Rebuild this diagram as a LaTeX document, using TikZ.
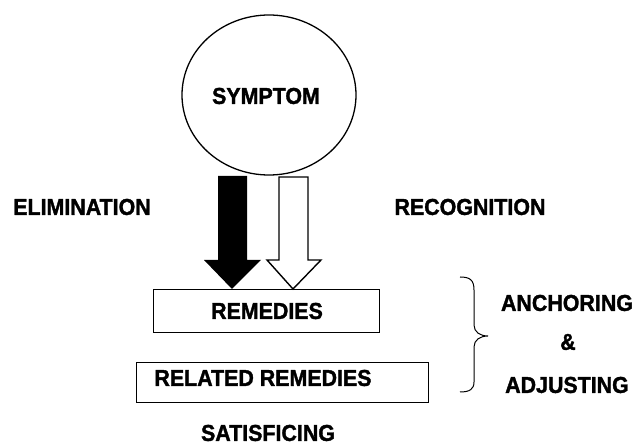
\documentclass[tikz,border=0pt]{standalone}
\usepackage{fontspec}
\setmainfont{Liberation Sans}[FakeStretch=0.93, BoldFeatures={FakeBold=1.5}]
\usetikzlibrary{shapes.geometric}
\begin{document}
\begin{tikzpicture}[x=1pt,y=-1pt,
  lbl/.style={font=\fontsize{23}{26}\selectfont\bfseries, inner sep=0pt},
  boxstyle/.style={draw, line width=1pt},
  arrowline/.style={draw, line width=1.4pt, line join=miter}]
\useasboundingbox[fill=white] (0,0) rectangle (633,446);
% circle
\node[draw, line width=1.3pt, ellipse, minimum width=174pt, minimum height=160pt, inner sep=0pt] (circ) at (269,95) {};
\node[lbl] (symptom) at (266,96) {SYMPTOM};
% boxes
\node[boxstyle, minimum width=226pt, minimum height=43pt, inner sep=0pt] (rem) at (266,311) {};
\node[lbl] (remt) at (267,311) {REMEDIES};
\node[boxstyle, minimum width=292pt, minimum height=40pt, inner sep=0pt] (rel) at (282,383) {};
\node[lbl] (relt) at (263,378) {RELATED REMEDIES};
% block arrows
\fill[black] (218,176) -- (247,176) -- (247,260) -- (261,260) -- (232,289) -- (204,260) -- (218,260) -- cycle;
\draw[arrowline, fill=white] (279,177) -- (308,177) -- (308,260) -- (321,260) -- (293,289) -- (267,260) -- (279,260) -- cycle;
% labels
\node[lbl] (elim) at (82,207) {ELIMINATION};
\node[lbl] (recog) at (470,207) {RECOGNITION};
\node[lbl] (satis) at (268,433) {SATISFICING};
\node[lbl] (anch) at (567,303) {ANCHORING};
\node[lbl] (amp) at (568,342) {\&};
\node[lbl] (adj) at (567,385) {ADJUSTING};
% brace
\draw[line width=1pt] (460,277) .. controls (470,277) and (474,280) .. (474,290) -- (474,325)
  .. controls (474,332) and (480,336) .. (488,336)
  .. controls (480,336) and (474,340) .. (474,347) -- (474,382)
  .. controls (474,389) and (470,392) .. (460,392);
\end{tikzpicture}
\end{document}
